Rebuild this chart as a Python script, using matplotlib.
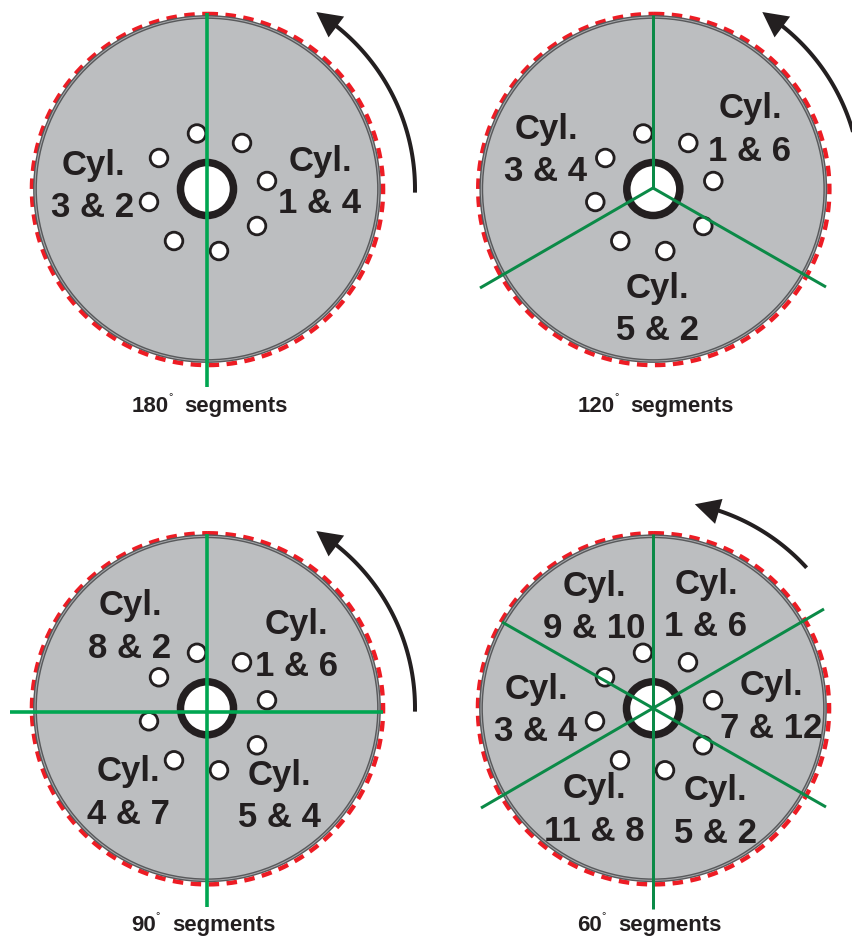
# cylinder firing segments on the distributor disc, four layouts
import numpy as np
import matplotlib
matplotlib.use('Agg')
import matplotlib.pyplot as plt
from matplotlib.patches import Circle, Polygon

plt.rcParams['font.family'] = ['Liberation Sans', 'DejaVu Sans']
plt.rcParams['lines.scale_dashes'] = False

TEXT = '#231f20'
RED = '#ed1c24'
DISC = '#bcbec0'
RIM = '#58595b'

# everything is in pixels of the 852x937 picture
centers = [(207, 190), (653.3, 190), (207, 709.3), (653, 709.3)]

# hole positions relative to the disc centre
hole_dx = [-10, 35, 60, 50, 12, -33, -48, -58]
hole_dy = [-55.5, -46, -8, 37, 62, 52, -31, 13]

# green lines as (x0, y0, x1, y1)
seg_lines = [
    [(207, 14, 207, 388)],
    [(653, 16, 653, 189), (653, 189, 480, 289), (653, 189, 826, 288)],
    [(207, 535, 207, 908), (10, 712.7, 383, 712.7)],
    [(652.5, 535, 652.5, 910), (481, 809, 824, 610), (502, 623, 826, 808)],
]
seg_colors = ['#00a651', '#0b8a47', '#00a651', '#0b8a47']
seg_widths = [3.6, 3.0, 3.6, 3.0]

# labels as (x, baseline of Cyl., baseline of pair, pair)
labels = [
    [(93, 175, 217, '3 & 2'), (320, 171, 213, '1 & 4')],
    [(546, 139, 181, '3 & 4'), (750, 118, 161, '1 & 6'), (657, 298, 340, '5 & 2')],
    [(130, 615, 658, '8 & 2'), (296.5, 634, 676, '1 & 6'),
     (128.5, 781, 824, '4 & 7'), (279, 785, 827, '5 & 4')],
    [(594, 596, 638, '9 & 10'), (706, 594, 636, '1 & 6'), (771, 695, 738, '7 & 12'),
     (536, 699, 741, '3 & 4'), (594, 798, 841, '11 & 8'), (715, 800, 843, '5 & 2')],
]

# caption: degree text, x of number, x of degree sign, x of word, baseline
captions = [
    ('180', 132, 171, 184, 412),
    ('120', 578, 617, 630, 412),
    ('90', 131, 158, 172, 931.5),
    ('60', 577, 604, 618, 931.5),
]

# arrows: arc centre, radius, start and end angle (deg, counter-clockwise from +x)
arrows = [
    (207, 190, 208, -1, 58.3),
    (653, 190, 208, -1, 58.3),
    (207, 709, 208, -1, 58.3),
    (653, 709, 208, 42.4, 78.4),
]

fig = plt.figure(figsize=(8.52, 9.37), dpi=100)
ax = fig.add_axes([0, 0, 1, 1])
ax.set_xlim(0, 852)
ax.set_ylim(937, 0)
ax.axis('off')

PX = 0.72  # points per pixel at dpi 100

for i, (cx, cy) in enumerate(centers):
    # red dashed ring, dashes start at the top and run clockwise
    t = np.linspace(0, 2 * np.pi, 721)
    ax.plot(cx + 0.5 + 175.6 * np.sin(t), cy + 0.5 - 175.6 * np.cos(t), color=RED, lw=4.4 * PX,
            linestyle=(0, (10.5 * PX, 7.5 * PX)), dash_capstyle='butt', zorder=1)

    ax.add_patch(Circle((cx, cy), 172, fc=DISC, ec=RIM, lw=3.8 * PX, zorder=2))
    ax.add_patch(Circle((cx, cy), 172, fc='none', ec='#a7a9ac', lw=1.0 * PX, zorder=2.1))

    for dx, dy in zip(hole_dx, hole_dy):
        ax.add_patch(Circle((cx + dx, cy + dy), 8.8, fc='white', ec=TEXT, lw=2.8 * PX, zorder=3))
    ax.add_patch(Circle((cx, cy), 26.5, fc='white', ec=TEXT, lw=7.5 * PX, zorder=3))

    for x0, y0, x1, y1 in seg_lines[i]:
        ax.plot([x0, x1], [y0, y1], color=seg_colors[i], lw=seg_widths[i] * PX,
                solid_capstyle='butt', zorder=4)

    for x, y0, y1, pair in labels[i]:
        ax.text(x, y0, 'Cyl.', fontsize=25, fontweight='bold', color=TEXT,
                ha='center', va='baseline', zorder=5)
        ax.text(x, y1, pair, fontsize=25, fontweight='bold', color=TEXT,
                ha='center', va='baseline', zorder=5)

    deg, x_num, x_deg, x_word, base = captions[i]
    ax.text(x_num, base, deg, fontsize=16, fontweight='bold', color=TEXT, ha='left', va='baseline')
    ax.text(x_deg, base - 12, '°', fontsize=8, color=TEXT, ha='center', va='baseline')
    ax.text(x_word, base, 'segments', fontsize=16, fontweight='bold', color=TEXT, ha='left', va='baseline')

    # curved arrow showing rotation
    ax_c, ay_c, r, a0, a1 = arrows[i]
    a = np.radians(np.linspace(a0, a1 - 4, 80))
    ax.plot(ax_c + r * np.cos(a), ay_c - r * np.sin(a), color=TEXT, lw=4.0 * PX,
            solid_capstyle='butt', zorder=6)
    tip = np.array([ax_c + r * np.cos(np.radians(a1)), ay_c - r * np.sin(np.radians(a1))])
    direc = np.array([-np.sin(np.radians(a1 - 5)), -np.cos(np.radians(a1 - 5))])
    norm = np.array([-direc[1], direc[0]])
    base_mid = tip - 25 * direc
    ax.add_patch(Polygon([tip, base_mid + 13 * norm, base_mid - 13 * norm], closed=True,
                         fc=TEXT, ec='none', zorder=6))

fig.savefig('out.png', dpi=100)
